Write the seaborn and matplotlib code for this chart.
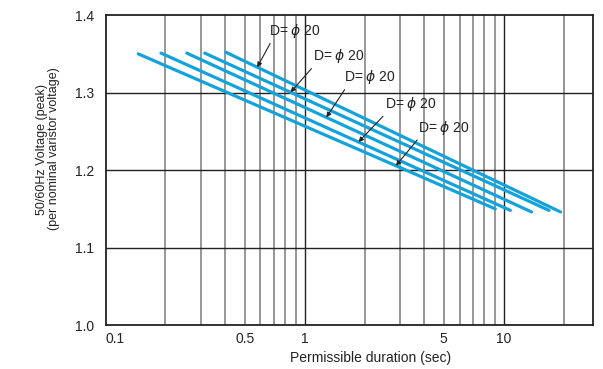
import numpy as np
import pandas as pd
import matplotlib
matplotlib.use("Agg")
import matplotlib.pyplot as plt
import seaborn as sns

# five curves, start/end points (log x)
x_start = [0.146, 0.19, 0.256, 0.315, 0.403]
x_end = [9.07, 10.8, 13.8, 16.9, 19.3]
y_start = [1.350, 1.351, 1.351, 1.351, 1.352]
y_end = [1.150, 1.148, 1.146, 1.148, 1.146]
curve_names = ["c1", "c2", "c3", "c4", "c5"]

# label "D= ϕ 20" arrows: which curve and where along x
label_text = r"D= $\phi$ 20"
label_curve = [4, 3, 2, 1, 0]
label_x = [0.578, 0.85, 1.286, 1.865, 2.875]
label_offset = [(12, 27), (22, 27), (18, 31), (26, 29), (22, 29)]

grid_dark = [1, 10]
grid_light = [0.2, 0.3, 0.4, 0.5, 0.6, 0.7, 0.8, 0.9, 2, 3, 4, 5, 6, 7, 8, 9, 20]
xticks = [0.1, 0.5, 1, 5, 10]
xtick_labels = ["0.1", "0.5", "1", "5", "10"]
yticks = [1.0, 1.1, 1.2, 1.3, 1.4]

sns.set_style("white")
plt.rcParams["font.family"] = ["Liberation Sans", "DejaVu Sans"]
plt.rcParams["mathtext.fontset"] = "dejavusans"

rows = []
for name, xs, xe, ys, ye in zip(curve_names, x_start, x_end, y_start, y_end):
    rows.append({"curve": name, "x": xs, "y": ys})
    rows.append({"curve": name, "x": xe, "y": ye})
df = pd.DataFrame(rows)

blue = "#12a3dc"
fig = plt.figure(figsize=(6.03, 3.69), dpi=100)
ax = fig.add_axes([0.175, 0.119, 0.808, 0.840])

for g in grid_light:
    ax.axvline(g, color="#7a7a7a", lw=1.1, zorder=1)
for g in grid_dark:
    ax.axvline(g, color="#222222", lw=1.0, zorder=1)
for g in yticks[1:-1]:
    ax.axhline(g, color="#222222", lw=1.0, zorder=1)

sns.lineplot(data=df, x="x", y="y", hue="curve", palette=[blue] * 5,
             lw=2.3, legend=False, ax=ax, zorder=3, estimator=None, sort=False)

ax.set_xscale("log")
ax.set_xlim(0.1, 28)
ax.set_ylim(1.0, 1.4)
ax.set_xticks(xticks)
ax.set_xticklabels(xtick_labels)
ax.get_xticklabels()[0].set_ha("left")
ax.xaxis.set_minor_locator(matplotlib.ticker.NullLocator())
ax.set_yticks(yticks)
ax.set_yticklabels([f"{v:.1f}" for v in yticks])
ax.tick_params(length=0, labelsize=10, colors="#222222")
ax.tick_params(axis="y", pad=8)
ax.tick_params(axis="x", pad=5)

for s in ax.spines.values():
    s.set_color("#222222")
    s.set_linewidth(1.3)

ax.set_xlabel("Permissible duration (sec)", fontsize=10, color="#222222")
ax.xaxis.set_label_coords(0.543, -0.085)
ax.set_ylabel("50/60Hz Voltage (peak)\n(per nominal varistor voltage)",
              fontsize=9, color="#222222", linespacing=1.0)
ax.yaxis.set_label_coords(-0.094, 0.568)

for ci, lx, off in zip(label_curve, label_x, label_offset):
    lx0, lx1 = np.log10(x_start[ci]), np.log10(x_end[ci])
    t = (np.log10(lx) - lx0) / (lx1 - lx0)
    ly = y_start[ci] + t * (y_end[ci] - y_start[ci])
    ax.annotate(label_text, xy=(lx, ly), xytext=off, textcoords="offset pixels",
                ha="left", va="bottom", fontsize=10, color="#222222",
                arrowprops=dict(arrowstyle="-|>", color="#222222", lw=0.8,
                                mutation_scale=7, relpos=(0.08, 0.15),
                                shrinkA=0, shrinkB=0),
                zorder=4)

fig.savefig("out.png", dpi=100)
